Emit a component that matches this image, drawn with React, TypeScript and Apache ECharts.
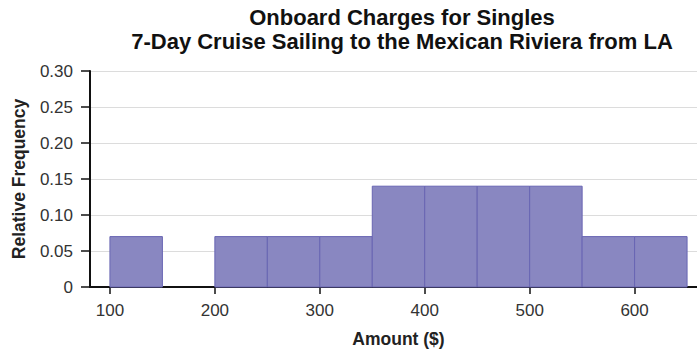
import React, { useEffect, useRef } from "react";
import * as echarts from "echarts";

const binStarts = [100, 150, 200, 250, 300, 350, 400, 450, 500, 550, 600];
const binWidth = 50;
const relFreq = [0.07, 0, 0.07, 0.07, 0.07, 0.14, 0.14, 0.14, 0.14, 0.07, 0.07];
const xTicks = [100, 200, 300, 400, 500, 600];
const titleLines = ["Onboard Charges for Singles", "7-Day Cruise Sailing to the Mexican Riviera from LA"];

const FONT = "Liberation Sans, Arial, sans-serif";

export default function App() {
  const ref = useRef<HTMLDivElement>(null);
  useEffect(() => {
    if (!ref.current) return;
    const chart = echarts.init(ref.current, null, { renderer: "svg" });
    const data = binStarts.map((s, i) => [s, s + binWidth, relFreq[i]]);
    chart.setOption({
      animation: false,
      textStyle: { fontFamily: FONT },
      title: {
        text: titleLines.join("\n"),
        left: 397,
        top: 0,
        textAlign: "center",
        textStyle: { fontSize: 22, fontWeight: "bold", color: "#111", lineHeight: 24, fontFamily: FONT },
      },
      grid: { left: 90, right: -10, top: 71, bottom: 63, containLabel: false, outerBoundsMode: "none" },
      xAxis: {
        type: "value",
        min: 81,
        max: 669,
        name: "Amount ($)",
        nameLocation: "middle",
        nameGap: 43,
        nameTextStyle: { fontSize: 17.5, fontWeight: "bold", color: "#222" },
        axisLine: { show: true, onZero: false, lineStyle: { color: "#111", width: 2 } },
        axisTick: { show: true, customValues: xTicks, length: 7, lineStyle: { color: "#111", width: 1.5 } },
        axisLabel: { customValues: xTicks, fontSize: 17, color: "#333", margin: 15 },
        splitLine: { show: false },
      },
      yAxis: {
        type: "value",
        min: 0,
        max: 0.3,
        interval: 0.05,
        name: "Relative Frequency",
        nameLocation: "middle",
        nameGap: 62,
        nameRotate: 90,
        nameTextStyle: { fontSize: 17.5, fontWeight: "bold", color: "#222" },
        axisLine: { show: true, lineStyle: { color: "#111", width: 2 } },
        axisTick: { show: true, length: 9, lineStyle: { color: "#111", width: 1.5 } },
        axisLabel: {
          fontSize: 17,
          color: "#333",
          margin: 17,
          formatter: (v: number) => (v === 0 ? "0" : v.toFixed(2)),
        },
        splitLine: { show: true, lineStyle: { color: "#dcdcdc", width: 1 } },
      },
      series: [
        {
          type: "custom",
          data,
          renderItem: (params: any, api: any) => {
            const x0 = api.value(0);
            const x1 = api.value(1);
            const y = api.value(2);
            if (!y) return null;
            const p0 = api.coord([x0, y]);
            const p1 = api.coord([x1, 0]);
            return {
              type: "rect",
              shape: { x: p0[0], y: p0[1], width: p1[0] - p0[0], height: p1[1] - p0[1] },
              style: { fill: "#8987c1", stroke: "#6865b3", lineWidth: 1 },
            };
          },
          encode: { x: [0, 1], y: 2 },
          z: 1,
        },
      ],
    });
    return () => chart.dispose();
  }, []);
  return <div ref={ref} style={{ position: "absolute", left: 0, top: 0, width: 697, height: 350 }} />;
}
